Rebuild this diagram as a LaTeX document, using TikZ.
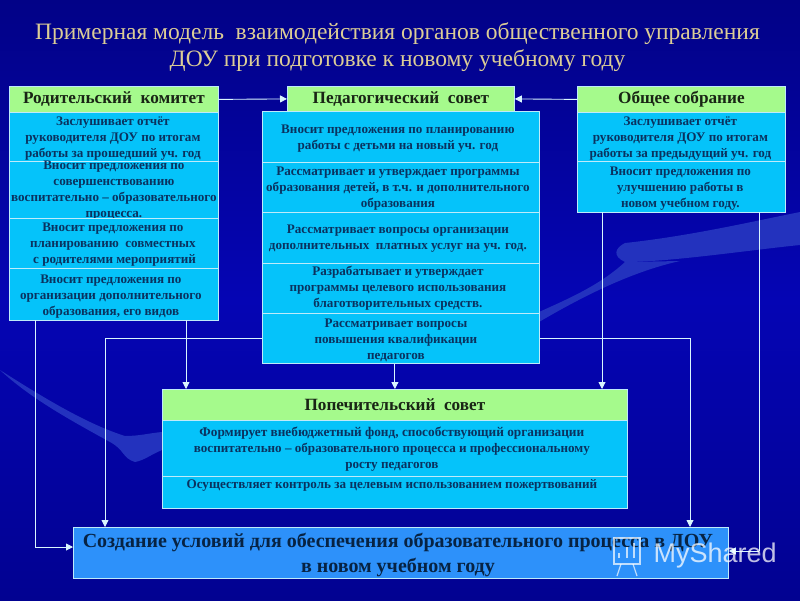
\documentclass[tikz,border=0pt]{standalone}
\usepackage{fontspec}
\setmainfont{Liberation Serif}
\usetikzlibrary{arrows.meta}
\definecolor{bgtop}{RGB}{2,2,135}
\definecolor{bgmid}{RGB}{5,5,180}
\definecolor{bgbot}{RGB}{2,2,145}
\definecolor{swoosh}{RGB}{35,50,190}
\definecolor{hdr}{RGB}{165,250,140}
\definecolor{cell}{RGB}{5,195,250}
\definecolor{edge}{RGB}{190,235,250}
\definecolor{txt}{RGB}{10,50,95}
\definecolor{bot}{RGB}{45,145,250}
\definecolor{ttl}{RGB}{220,205,150}
\tikzset{
 x=1pt,y=-1pt,
 hdrbox/.style={fill=hdr,draw=edge,line width=0.8pt,anchor=north west,inner sep=0pt,font=\bfseries\fontsize{17.2}{20}\selectfont,text=black!85!hdr,align=center},
 cellbox/.style={fill=cell,draw=edge,line width=0.8pt,anchor=north west,inner sep=0pt},
 celltext/.style={inner sep=0pt,font=\bfseries\fontsize{13.1}{16}\selectfont,text=txt,align=center},
 botbox/.style={fill=bot,draw=edge,line width=0.8pt,anchor=north west,inner sep=0pt},
 bottext/.style={inner sep=0pt,font=\bfseries\fontsize{20}{25}\selectfont,text=txt!70!black,align=center},
 wire/.style={draw=white!85!cell,line width=0.9pt},
 arr/.style={wire,-{Triangle[length=7pt,width=7pt]}},
}
% name, x, y, w, h, dx, dy, text
\newcommand{\cellx}[8]{%
 \node[cellbox,minimum width=#4pt,minimum height=#5pt] (#1) at (#2,#3) {};
 \node[celltext] (#1t) at ([shift={(#6,#7)}]#1.center) {#8};
}
\begin{document}
\begin{tikzpicture}
\useasboundingbox (0,0) rectangle (800,600);
\shade[top color=bgtop,bottom color=bgbot,middle color=bgmid] (0,0) rectangle (800,600);
% background swooshes
\fill[swoosh] (800,212) .. controls (750,222) and (690,236) .. (625,243) .. controls (615,248) and (612,256) .. (625,262) .. controls (670,262) and (750,250) .. (800,245) -- cycle;
\fill[swoosh] (539,312) .. controls (570,298) and (600,285) .. (625,262) -- (680,261) .. controls (630,272) and (580,298) .. (539,322) -- cycle;
\fill[swoosh] (0,370) .. controls (50,402) and (90,425) .. (125,436) .. controls (140,436) and (150,433) .. (162,432) -- (162,450) .. controls (150,455) and (145,460) .. (135,462) .. controls (122,458) and (125,450) .. (110,442) .. controls (70,420) and (30,398) .. (0,370) -- cycle;
% title
\node[font=\fontsize{23.5}{27}\selectfont,text=ttl,align=center] (title) at (397.5,47.5) {Примерная модель\ \ взаимодействия органов общественного управления\\ДОУ при подготовке к новому учебному году};
% left column
\node[hdrbox,minimum width=209pt,minimum height=26pt] (lh) at (9,86) {Родительский\ \ комитет};
\cellx{l1}{9}{112}{209}{49}{-1}{1.5}{Заслушивает отчёт\\руководителя ДОУ по итогам\\работы за прошедший уч. год}
\cellx{l2}{9}{161}{209}{57}{0}{1}{Вносит предложения по\\совершенствованию\\воспитательно – образовательного\\процесса.}
\cellx{l3}{9}{218}{209}{50}{-1}{1.5}{Вносит предложения по\\планированию\ \ совместных\\\ с родителями мероприятий}
\cellx{l4}{9}{268}{209}{52}{-3}{2}{Вносит предложения по\\организации дополнительного\\образования, его видов}
% centre column
\node[hdrbox,minimum width=227pt,minimum height=25pt] (ch) at (287,86) {Педагогический\ \ совет};
\cellx{c1}{262}{111}{277}{50.5}{-3}{1.5}{Вносит предложения по планированию\\работы с детьми на новый уч. год}
\cellx{c2}{262}{161.5}{277}{50.5}{-3}{1}{Рассматривает и утверждает программы\\образования детей, в т.ч. и дополнительного\\образования}
\cellx{c3}{262}{212}{277}{51}{-3}{1}{Рассматривает вопросы организации\\дополнительных\ \ платных услуг на уч. год.}
\cellx{c4}{262}{263}{277}{50}{-3}{0}{Разрабатывает и утверждает\\программы целевого использования\\благотворительных средств.}
\cellx{c5}{262}{313}{277}{50}{-5}{2}{Рассматривает вопросы\\повышения квалификации\\педагогов}
% right column
\node[hdrbox,minimum width=208pt,minimum height=26pt] (rh) at (577,86) {Общее собрание};
\cellx{r1}{577}{112}{208}{49}{-1}{2}{Заслушивает отчёт\\руководителя ДОУ по итогам\\работы за предыдущий уч. год}
\cellx{r2}{577}{161}{208}{51}{-1}{2}{Вносит предложения по\\улучшению работы в\\новом учебном году.}
% trustees
\node[hdrbox,minimum width=465pt,minimum height=31pt] (th) at (162,389) {Попечительский\ \ совет};
\cellx{t1}{162}{420}{465}{56}{-3}{1}{\fontsize{13.3}{16}\selectfont Формирует внебюджетный фонд, способствующий организации\\воспитательно – образовательного процесса и профессиональному\\росту педагогов}
\cellx{t2}{162}{476}{465}{32}{-3}{-7.5}{Осуществляет контроль за целевым использованием пожертвований}
% bottom
\node[botbox,minimum width=655pt,minimum height=51pt] (bb) at (73,527) {};
\node[bottext] (bbt) at ([shift={(-3,2)}]bb.center) {Создание условий для обеспечения образовательного процесса в ДОУ\\в новом учебном году};
% connectors
\coordinate (a1) at (105,338);
\coordinate (a2) at (690,338);
\coordinate (a3) at (35,547);
\coordinate (a4) at (759,551);
\coordinate (s1) at (186,320);
\coordinate (s2) at (602,212);
\coordinate (s3) at (35,320);
\coordinate (s4) at (759,212);
\draw[arr] (lh.east) -- (ch.west);
\draw[arr] (rh.west) -- (ch.east);
\draw[arr] (c5.south -| th.north) -- (th.north);
\draw[arr] (s1) -- (s1 |- th.north);
\draw[arr] (s2) -- (s2 |- th.north);
\draw[wire] (c5.west |- a1) -- (a1);
\draw[arr] (a1) -- (a1 |- bb.north);
\draw[wire] (c5.east |- a2) -- (a2);
\draw[arr] (a2) -- (a2 |- bb.north);
\draw[wire] (s3) -- (a3);
\draw[arr] (a3) -- (bb.west |- a3);
\draw[wire] (s4) -- (a4);
\draw[arr] (a4) -- (bb.east |- a4);
% watermark
\begin{scope}[draw=white,opacity=0.7,line width=1.2pt]
\draw (614,538) rectangle (640,564);
\draw (619,558) -- (619,553) (627,558) -- (627,547) (634,558) -- (634,543);
\draw (621,564) -- (617,576) (633,564) -- (637,576);
\end{scope}
\node[text=white,opacity=0.75,font=\fontspec{Liberation Sans}\fontsize{27}{27}\selectfont,anchor=west] (wm) at (650,556) {MyShared};
\end{tikzpicture}
\end{document}
